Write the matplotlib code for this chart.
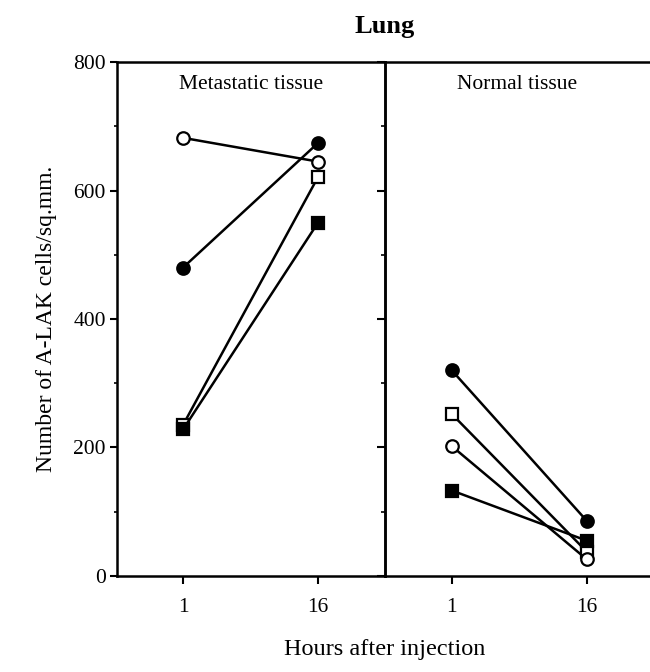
import matplotlib.pyplot as plt
from matplotlib.ticker import MultipleLocator

plt.rcParams['font.family'] = ['Liberation Serif', 'DejaVu Serif']

hours = ['1', '16']
x_pos = [1, 2]

# Metastatic tissue
met_open_circle = [682, 645]
met_filled_circle = [480, 674]
met_open_square = [235, 621]
met_filled_square = [228, 550]

# Normal tissue
norm_filled_circle = [320, 86]
norm_open_square = [252, 38]
norm_open_circle = [202, 26]
norm_filled_square = [133, 55]

fig = plt.figure(figsize=(6.5, 6.72), dpi=100)
ax1 = fig.add_axes([0.18, 0.1429, 0.4123, 0.7648])
ax2 = fig.add_axes([0.5923, 0.1429, 0.4077, 0.7648])
ax2.patch.set_visible(False)

def draw(ax, series):
    for vals, marker, filled in series:
        ax.plot(x_pos, vals, color='black', lw=1.8, marker=marker,
                markersize=9 if marker == 'o' else 8.5,
                markerfacecolor='black' if filled else 'white',
                markeredgecolor='black', markeredgewidth=1.6, clip_on=False, zorder=3)

draw(ax1, [(met_open_circle, 'o', False), (met_filled_circle, 'o', True),
           (met_open_square, 's', False), (met_filled_square, 's', True)])
draw(ax2, [(norm_filled_circle, 'o', True), (norm_open_square, 's', False),
           (norm_open_circle, 'o', False), (norm_filled_square, 's', True)])

for ax in (ax1, ax2):
    ax.set_ylim(0, 800)
    ax.set_xticks(x_pos)
    ax.set_xticklabels(hours, fontsize=15.5)
    ax.tick_params(axis='x', direction='out', length=6, width=1.5, pad=10)
    for s in ax.spines.values():
        s.set_linewidth(1.8)

ax1.set_xlim(0.511, 2.496)
ax2.set_xlim(0.504, 2.47)

ax1.yaxis.set_major_locator(MultipleLocator(200))
ax1.yaxis.set_minor_locator(MultipleLocator(100))
ax1.tick_params(axis='y', which='major', direction='out', length=5, width=1.5, labelsize=15.5, pad=3)
ax1.tick_params(axis='y', which='minor', direction='out', length=2.5, width=1.2)

# ticks on the divider pointing into the left panel
sec = ax1.secondary_yaxis('right')
sec.yaxis.set_major_locator(MultipleLocator(200))
sec.yaxis.set_minor_locator(MultipleLocator(100))
sec.tick_params(which='major', direction='in', length=6, width=1.5, labelright=False)
sec.tick_params(which='minor', direction='in', length=3, width=1.2)
sec.spines['right'].set_linewidth(1.8)

ax2.set_yticks([])
ax2.spines['left'].set_visible(False)
ax2.spines['right'].set_visible(False)

ax1.set_ylabel('Number of A-LAK cells/sq.mm.', fontsize=17, labelpad=12)
ax1.text(0.5, 0.975, 'Metastatic tissue', transform=ax1.transAxes,
         ha='center', va='top', fontsize=15.5)
ax2.text(0.5, 0.975, 'Normal tissue', transform=ax2.transAxes,
         ha='center', va='top', fontsize=15.5)

fig.text(0.5923, 0.96, 'Lung', ha='center', va='center', fontsize=19, fontweight='bold')
fig.text(0.5923, 0.033, 'Hours after injection', ha='center', va='center', fontsize=17.5)

fig.savefig('out.png', dpi=100)
